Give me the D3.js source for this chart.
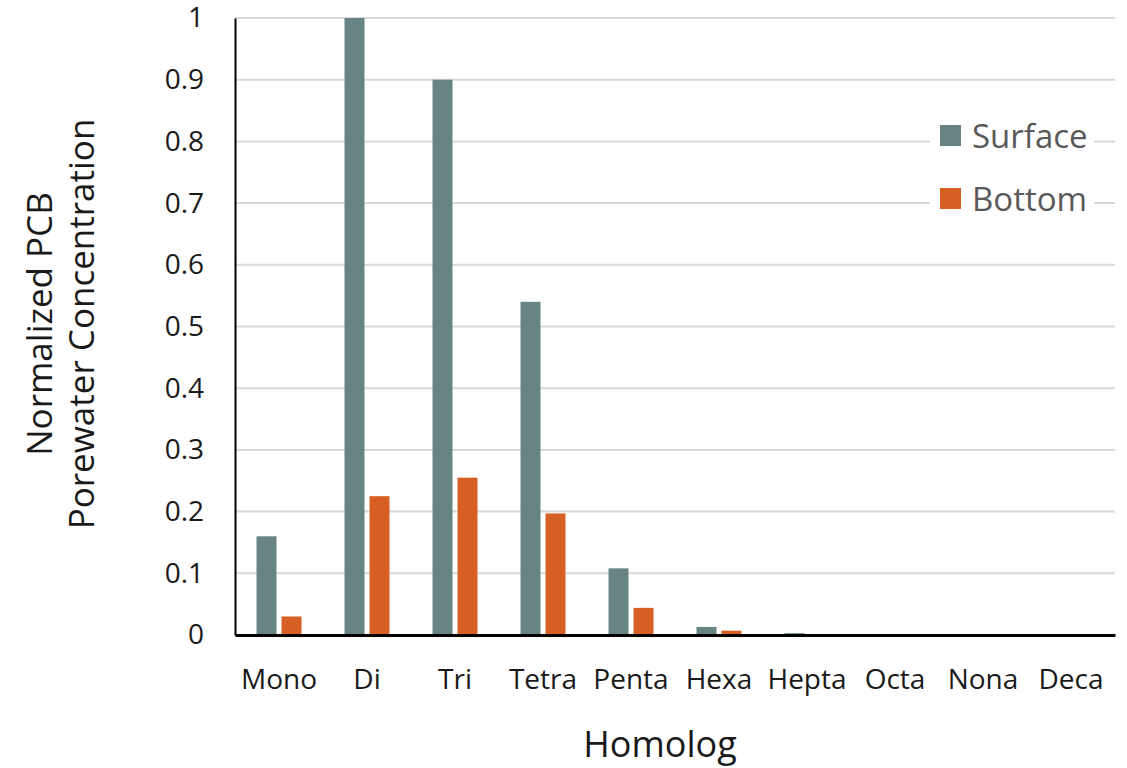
<!DOCTYPE html>
<html>
<head>
<meta charset="utf-8">
<script src="https://cdn.jsdelivr.net/npm/d3@7"></script>
<style>
  body { margin: 0; background: #fff; }
  svg { display: block; font-family: "Open Sans", "Noto Sans", sans-serif; }
</style>
</head>
<body>
<svg id="chart" width="1127" height="768"></svg>
<script>
// PCB homolog groups
const categories = ["Mono", "Di", "Tri", "Tetra", "Penta", "Hexa", "Hepta", "Octa", "Nona", "Deca"];
// Normalized porewater concentration by depth
const surfaceValues = [0.16, 1.0, 0.90, 0.54, 0.108, 0.013, 0.003, 0, 0, 0];
const bottomValues  = [0.03, 0.225, 0.255, 0.197, 0.044, 0.007, 0, 0, 0, 0];
const yTicks = [0, 0.1, 0.2, 0.3, 0.4, 0.5, 0.6, 0.7, 0.8, 0.9, 1];
const seriesNames = ["Surface", "Bottom"];
const seriesColors = ["#688383", "#d65f24"];

const FONT = "'Open Sans', 'Noto Sans', sans-serif";
const svg = d3.select("#chart");
const margin = { left: 235, right: 12, top: 18, bottom: 133 };
const W = 1127, H = 768;

const x = d3.scaleBand().domain(categories).range([margin.left, W - margin.right]).paddingInner(0).paddingOuter(0);
const y = d3.scaleLinear().domain([0, 1]).range([H - margin.bottom, margin.top]);

// horizontal gridlines
svg.append("g").selectAll("line").data(yTicks.filter(d => d > 0)).join("line")
  .attr("x1", margin.left).attr("x2", W - margin.right)
  .attr("y1", d => y(d)).attr("y2", d => y(d))
  .attr("stroke", "#d9d9d9").attr("stroke-width", 2);

// bars
const bw = 20, gap = 5;
const groups = [surfaceValues, bottomValues];
groups.forEach((vals, i) => {
  svg.append("g").selectAll("rect").data(categories).join("rect")
    .attr("x", (c) => x(c) + x.bandwidth() / 2 - bw - gap / 2 + i * (bw + gap))
    .attr("width", bw)
    .attr("y", (c, k) => y(vals[k]))
    .attr("height", (c, k) => y(0) - y(vals[k]))
    .attr("fill", seriesColors[i]);
});

// y axis
const yAxis = d3.axisLeft(y).tickValues(yTicks).tickSize(0).tickPadding(31)
  .tickFormat(d => d === 0 ? "0" : d === 1 ? "1" : d3.format(".1f")(d));
const gy = svg.append("g").attr("transform", `translate(${margin.left},0)`).call(yAxis);
gy.select(".domain").attr("stroke", "#000").attr("stroke-width", 2);
gy.selectAll("text").attr("font-size", 28).attr("fill", "#1a1a1a").style("font-family", FONT);

// x axis
const xAxis = d3.axisBottom(x).tickSize(0).tickPadding(34);
const gx = svg.append("g").attr("transform", `translate(0,${y(0)})`).call(xAxis);
gx.select(".domain").attr("stroke", "#000").attr("stroke-width", 3);
gx.selectAll("text").attr("font-size", 28).attr("fill", "#1a1a1a").style("font-family", FONT);

// axis titles
svg.append("text").attr("x", 660).attr("y", 757)
  .attr("text-anchor", "middle").attr("font-size", 36).attr("fill", "#1a1a1a").text("Homolog");

const yt = svg.append("text").attr("transform", "translate(0,324) rotate(-90)")
  .attr("text-anchor", "middle").attr("font-size", 35).attr("fill", "#1a1a1a");
yt.append("tspan").attr("x", 0).attr("y", 52).text("Normalized PCB");
yt.append("tspan").attr("x", 0).attr("y", 94).text("Porewater Concentration");

// legend
const lg = svg.append("g");
lg.append("rect").attr("x", 930).attr("y", 110).attr("width", 164).attr("height", 112).attr("fill", "#fff");
seriesNames.forEach((name, i) => {
  const cy = 136 + i * 63;
  lg.append("rect").attr("x", 940).attr("y", cy - 11).attr("width", 21).attr("height", 21).attr("fill", seriesColors[i]);
  lg.append("text").attr("x", 972).attr("y", cy + 12).attr("font-size", 33).attr("fill", "#595959").text(name);
});
</script>
</body>
</html>
